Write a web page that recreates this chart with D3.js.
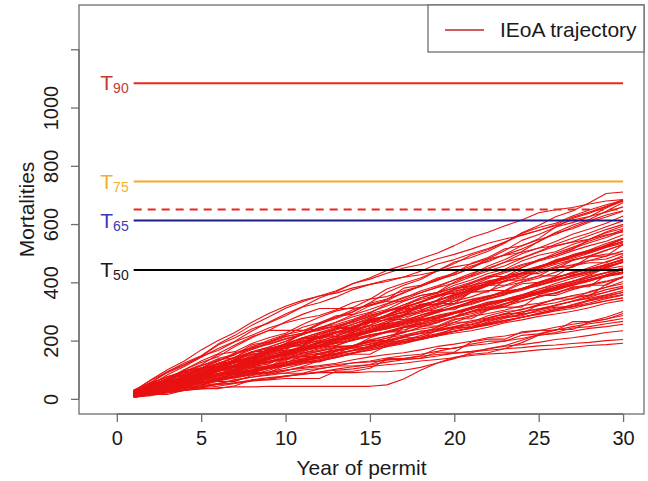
<!DOCTYPE html>
<html><head><meta charset="utf-8">
<script src="https://cdn.jsdelivr.net/npm/d3@7"></script>
<style>body{margin:0;background:#fff}svg{display:block}text{font-family:"Liberation Sans",Arial,sans-serif}</style>
</head><body><svg id="chart" width="648" height="481"></svg>
<script>
// ---------------- data ----------------
const years = [1,2,3,4,5,6,7,8,9,10,11,12,13,14,15,16,17,18,19,20,21,22,23,24,25,26,27,28,29,30];
const xTicks = [0,5,10,15,20,25,30];
const yTicks = [0,200,400,600,800,1000,1200];
const yTickLabels = ["0","200","400","600","800","1000",""];
const thresholdLetters = ["T","T","T","T"];
const thresholdSubscripts = ["90","75","65","50"];
const thresholdValues = [1083,746,612,442];
const dashedThreshold = [650];
const legendLabels = ["IEoA trajectory"];
// mortalities in year 1 followed by annual additions (years 2..30), one row per trajectory
const annualMortalities = [
[22,30,25,18,22,35,10,28,20,15,30,25,22,12,28,35,20,18,25,30,15,22,28,35,25,30,20,28,32,5],
[15,20,35,10,25,30,5,40,15,20,10,35,25,5,30,20,40,10,25,15,35,20,30,10,25,40,15,20,30,25],
[28,35,30,25,28,20,30,22,25,18,15,10,20,25,12,8,20,15,22,18,25,30,28,35,20,25,30,18,22,20],
[10,10,15,12,18,10,20,15,10,25,20,15,18,30,25,35,28,30,20,35,25,30,22,28,35,30,25,20,28,30],
[18,25,20,28,15,22,30,18,25,20,12,25,18,22,30,15,20,25,18,28,22,15,25,30,20,18,25,22,20,15],
[24,18,22,30,12,25,20,35,10,22,28,15,20,25,18,12,30,20,25,15,22,28,18,20,25,30,15,22,18,20],
[12,20,18,22,25,15,20,28,18,20,22,25,10,18,22,30,20,25,18,20,15,22,25,28,20,22,25,18,20,25],
[20,22,20,15,25,18,20,22,15,20,25,18,22,20,15,22,20,25,18,15,22,20,18,25,22,20,15,22,20,18],
[15,15,20,22,10,18,25,15,20,12,18,22,15,20,25,10,18,22,15,20,18,25,12,20,18,22,15,20,18,15],
[25,28,22,18,20,25,15,18,22,20,12,10,15,18,20,12,15,18,20,22,15,12,18,20,15,18,22,15,12,18],
[8,12,15,10,18,20,15,22,18,15,20,25,18,22,15,20,18,22,25,15,18,20,22,18,20,25,15,20,22,18],
[20,18,25,0,30,15,20,5,35,18,10,25,20,0,28,18,22,15,0,30,25,18,20,5,28,22,15,20,18,25],
[12,22,18,15,20,25,12,18,20,15,22,10,18,20,15,25,18,12,20,22,15,18,10,20,22,18,15,12,20,22],
[30,25,20,18,22,15,25,20,12,18,15,20,10,15,18,20,12,15,22,18,10,15,20,18,22,15,12,18,20,15],
[16,10,12,15,18,10,15,20,12,18,15,22,20,18,25,20,22,18,15,25,20,22,18,25,20,15,22,20,18,25],
[22,20,15,22,18,12,20,15,18,22,10,15,20,18,15,22,12,18,15,20,22,18,15,12,20,18,22,15,20,18],
[10,15,18,20,12,25,15,18,22,20,15,18,12,20,25,18,15,22,18,20,12,25,18,15,20,22,18,15,25,20],
[18,30,0,25,5,20,0,35,15,0,28,20,10,0,30,22,5,25,18,0,30,15,20,5,25,18,10,22,20,15],
[14,20,22,18,15,20,25,18,15,20,22,18,20,15,22,18,20,25,15,20,18,22,15,20,18,25,20,22,18,20],
[26,15,10,12,18,15,20,12,15,18,20,22,25,20,18,22,25,20,18,15,22,25,20,18,22,15,20,18,15,22],
[12,15,12,18,10,15,20,12,15,10,18,15,12,20,15,10,18,15,12,18,15,20,10,15,18,12,15,20,15,12],
[20,18,15,12,20,10,15,18,12,15,20,10,12,15,18,12,10,15,20,12,15,18,10,15,12,20,15,12,18,15],
[8,10,12,15,8,12,15,18,10,12,15,20,12,15,18,15,12,20,15,18,12,15,20,18,15,12,18,20,15,18],
[15,20,18,15,12,20,15,10,18,12,15,10,12,8,15,12,18,10,15,12,18,15,20,12,18,15,12,18,15,20],
[25,22,20,15,18,12,15,10,12,15,10,12,15,18,10,12,15,12,10,15,18,12,15,10,12,15,18,12,15,10],
[10,12,15,10,18,15,12,20,15,12,18,10,15,20,12,18,15,12,18,20,15,12,18,15,20,12,15,18,12,15],
[18,0,25,5,20,0,18,22,0,15,25,5,0,30,12,0,20,18,5,25,0,22,15,5,20,18,0,25,15,20],
[14,18,12,15,20,15,18,12,15,18,20,15,12,18,15,20,12,18,15,12,20,15,18,12,15,20,18,15,12,18],
[22,15,18,20,12,15,10,18,15,12,20,15,18,12,15,10,18,15,20,12,15,18,15,12,20,15,18,12,15,20],
[6,8,10,12,10,15,12,10,15,18,12,15,20,15,18,12,20,18,15,22,18,20,15,18,22,20,18,15,20,22],
[28,20,15,22,18,15,12,10,15,12,8,15,12,10,15,18,12,15,10,12,15,18,12,15,10,12,15,18,12,15],
[16,15,15,12,18,20,15,12,15,18,15,12,20,15,18,15,12,18,15,20,15,12,18,15,12,20,15,18,15,12],
[12,20,18,22,15,18,20,15,12,10,8,12,10,15,12,10,8,15,12,18,15,12,10,15,18,12,15,10,12,15],
[20,12,10,15,12,18,15,12,20,15,18,12,15,20,18,15,12,18,20,15,12,18,15,20,12,15,18,12,20,15],
[10,12,10,15,8,12,10,15,12,8,10,12,15,10,8,12,10,15,12,10,8,12,15,10,12,8,10,12,15,10],
[18,15,12,10,12,15,8,10,12,15,10,8,12,10,15,12,8,10,12,15,10,12,8,10,15,12,10,8,12,10],
[8,10,8,12,10,15,12,10,8,12,15,10,12,15,10,12,15,12,10,15,12,10,12,15,10,12,8,15,12,10],
[22,20,18,15,12,10,12,8,10,12,8,10,12,8,10,12,15,10,8,12,10,15,12,10,8,12,10,15,12,10],
[12,8,10,12,15,10,12,15,10,12,15,12,10,15,12,10,12,15,18,12,10,15,12,15,10,12,15,18,12,15],
[15,10,12,10,8,12,10,12,15,10,12,8,10,12,15,12,10,12,15,12,10,15,12,10,15,12,18,15,12,15],
[25,18,15,12,15,10,12,8,12,10,12,15,10,8,12,15,10,12,10,15,12,10,12,8,10,12,15,10,12,15],
[10,12,15,10,12,10,15,12,10,12,15,10,12,10,8,12,10,12,15,10,12,15,18,12,15,18,12,15,18,15],
[20,12,10,8,12,10,15,12,10,8,12,10,12,15,10,12,10,8,12,15,10,12,15,10,12,15,10,12,15,12],
[14,15,12,10,15,12,10,12,15,10,12,15,12,10,15,12,10,15,12,10,15,12,18,15,12,10,15,12,18,12],
[10,5,8,6,5,4,3,0,2,0,0,0,0,0,0,5,20,30,25,15,20,15,10,18,20,15,12,10,8,10],
[8,8,10,6,8,10,5,8,6,10,5,8,6,5,8,6,5,8,5,6,8,5,3,5,6,4,5,6,3,5],
[15,10,12,8,10,12,8,10,6,8,5,6,8,5,4,6,5,8,6,5,4,6,5,4,6,3,5,4,6,4],
[12,6,8,10,5,8,6,10,8,5,8,6,10,8,6,10,8,5,8,10,6,8,10,5,8,10,6,8,10,6],
[6,8,6,10,8,5,10,8,6,10,8,5,0,0,3,0,5,10,15,20,10,5,15,20,25,10,15,5,10,8],
[18,12,10,8,6,10,8,12,6,8,10,6,8,12,10,8,6,10,12,8,10,12,6,10,8,12,10,8,10,12],
[25,40,35,30,38,32,28,35,30,25,20,15,10,18,12,15,10,8,12,15,10,18,12,10,15,8,12,10,15,10],
[20,35,38,30,25,40,30,35,28,30,22,20,18,25,15,20,18,12,20,15,18,20,15,12,18,15,20,12,15,18],
[18,30,35,28,32,30,25,35,30,28,25,30,22,28,20,25,18,22,20,25,28,18,22,20,25,10,8,12,10,5],
[15,0,30,0,40,0,0,35,10,0,45,5,0,0,30,20,0,40,0,10,35,0,0,30,15,0,25,0,40,10],
[10,20,5,0,25,40,0,10,0,30,5,0,35,0,20,0,45,5,0,25,0,30,10,0,40,0,20,15,0,30],
[22,35,0,40,10,0,30,25,0,5,40,0,20,0,35,10,0,30,25,0,40,5,0,30,20,0,35,10,0,25],
[5,10,0,15,5,0,10,20,0,5,0,0,25,0,10,30,0,5,20,0,35,10,0,25,5,0,30,0,15,20],
[12,25,30,0,20,35,5,0,40,15,0,30,20,0,45,0,10,35,0,20,25,0,40,0,15,30,0,35,10,0],
[30,15,25,20,0,30,10,25,0,35,20,5,30,0,25,15,0,40,10,0,30,25,0,20,35,0,30,15,0,40],
[8,12,18,10,0,22,15,5,0,25,12,0,18,8,0,30,20,0,15,25,0,35,15,0,30,20,10,0,40,25],
[20,28,22,30,25,20,35,30,25,0,0,5,10,0,15,20,25,0,30,35,20,25,0,30,28,15,20,35,25,20],
[15,22,28,35,30,25,30,28,22,30,25,20,0,0,10,15,0,20,10,15,5,20,10,15,0,20,10,15,5,20],
[25,30,35,25,30,40,25,30,20,25,30,15,20,25,18,10,15,20,25,15,20,18,22,25,15,20,25,18,20,22],
[10,15,10,20,15,25,20,30,25,20,35,30,25,20,30,35,25,20,30,25,28,20,25,30,20,15,25,20,18,15],
[18,10,12,0,15,5,0,20,8,0,0,15,10,0,5,20,0,10,25,0,15,10,0,20,5,15,0,25,10,20],
[12,18,22,15,25,20,10,28,15,20,25,18,12,30,22,15,28,20,10,25,18,22,15,28,20,12,25,18,22,15],
[20,15,20,10,25,15,20,5,30,15,10,25,5,20,15,10,25,15,5,20,15,10,20,25,5,15,20,10,15,20],
[14,25,20,15,30,10,20,25,15,10,5,10,15,5,10,20,15,10,5,15,20,10,15,5,20,15,10,15,20,10],
[6,5,10,8,12,10,15,8,10,12,15,20,10,15,25,20,15,10,20,25,15,18,20,25,15,20,18,22,25,20],
[24,20,25,15,20,18,22,25,20,18,15,22,20,25,18,20,22,15,20,25,22,18,20,15,22,25,20,18,22,20],
[10,18,15,20,22,18,15,20,25,18,22,20,15,18,22,20,25,18,15,20,22,18,25,20,15,18,22,20,18,22],
[16,20,15,18,12,20,15,10,18,15,20,12,18,15,10,20,15,18,12,15,20,18,12,15,20,18,15,12,18,15],
[20,22,25,18,20,15,22,18,12,15,10,18,12,15,20,10,15,12,18,10,15,12,10,15,18,12,10,15,12,10],
[8,15,12,18,20,15,12,18,22,15,20,18,15,22,12,18,20,15,18,22,15,20,18,12,15,20,18,22,15,18],
[28,12,15,10,18,15,12,10,15,18,12,10,15,12,18,10,15,12,10,15,18,12,15,10,12,15,18,10,12,15],
[10,8,12,10,5,8,10,12,6,8,10,5,8,12,6,10,8,5,10,12,8,6,10,8,12,5,8,10,6,8],
[15,20,0,25,10,0,20,15,0,30,5,0,25,10,0,20,15,0,25,10,0,20,15,5,20,10,0,25,15,10],
[12,25,15,30,5,20,25,10,30,15,20,5,25,20,15,30,10,20,25,5,20,15,25,10,20,25,15,10,20,18],
[18,15,10,18,12,10,20,15,5,18,12,10,15,5,20,12,15,10,8,15,20,10,12,15,8,12,15,10,18,12],
[10,18,20,15,12,18,15,20,12,10,15,18,20,12,15,10,18,15,12,10,15,18,12,15,10,18,15,12,10,15]
];

// ---------------- styles ----------------
const thresholdLineColors = ["#e8281e","#f9a825","#1c1c86","#000000"];
const thresholdLabelColors = ["#c43a34","#eeb22a","#3a3ab4","#1a1a1a"];
const trajColor = "#e81212";
const axisColor = "#6e6e6e";
const textColor = "#1a1a1a";

// ---------------- layout ----------------
const svg = d3.select("#chart");
const box = {left:79, right:644, top:5, bottom:414};
const x = d3.scaleLinear().domain([-2.24, 31.24]).range([box.left, box.right]);
const y = d3.scaleLinear().domain([-52, 1352]).range([box.bottom, box.top]);

// trajectories
const trajectories = annualMortalities.map(row => Array.from(d3.cumsum(row)));
const line = d3.line().x((d,i)=>x(years[i])).y(d=>y(d));
svg.append("g").selectAll("path").data(trajectories).join("path")
  .attr("d", d=>line(d)).attr("fill","none").attr("stroke",trajColor)
  .attr("stroke-width",1.1).attr("stroke-linejoin","round");

// threshold lines
const x0 = years[0], x1 = years[years.length-1];
svg.append("g").selectAll("line").data(dashedThreshold).join("line")
  .attr("x1",x(x0)).attr("x2",x(x1)).attr("y1",d=>y(d)).attr("y2",d=>y(d))
  .attr("stroke","#e8281e").attr("stroke-width",2).attr("stroke-dasharray","8,6");
const thr = svg.append("g");
thresholdValues.forEach((v,i)=>{
  thr.append("line").attr("x1",x(x0)).attr("x2",x(x1)).attr("y1",y(v)).attr("y2",y(v))
    .attr("stroke",thresholdLineColors[i]).attr("stroke-width",2);
  const t = thr.append("text").attr("x",x(x0)-5).attr("y",y(v)+7)
    .attr("text-anchor","end").attr("fill",thresholdLabelColors[i]).attr("font-size",21);
  t.append("tspan").text(thresholdLetters[i]);
  t.append("tspan").attr("font-size",14).attr("dy",3).text(thresholdSubscripts[i]);
});

// box
svg.append("rect").attr("x",box.left).attr("y",box.top)
  .attr("width",box.right-box.left).attr("height",box.bottom-box.top)
  .attr("fill","none").attr("stroke",axisColor).attr("stroke-width",1.3);

// x axis
const xAxis = d3.axisBottom(x).tickValues(xTicks).tickSize(8).tickPadding(9).tickFormat(d3.format("d"));
const gx = svg.append("g").attr("transform",`translate(0,${box.bottom})`).call(xAxis);
gx.select(".domain").attr("d",`M${x(xTicks[0])},0H${x(xTicks[xTicks.length-1])}`).attr("stroke",axisColor).attr("stroke-width",1.3);
gx.selectAll(".tick line").attr("stroke",axisColor).attr("stroke-width",1.3);
gx.selectAll(".tick text").attr("fill",textColor).attr("font-size",20).attr("font-family","Liberation Sans, Arial, sans-serif");

// y axis
const yAxis = d3.axisLeft(y).tickValues(yTicks).tickSize(8).tickFormat((d,i)=>yTickLabels[i]);
const gy = svg.append("g").attr("transform",`translate(${box.left},0)`).call(yAxis);
gy.select(".domain").attr("d",`M0,${y(yTicks[0])}V${y(yTicks[yTicks.length-1])}`).attr("stroke",axisColor).attr("stroke-width",1.3);
gy.selectAll(".tick line").attr("stroke",axisColor).attr("stroke-width",1.3);
gy.selectAll(".tick text").attr("fill",textColor).attr("font-size",20)
  .attr("font-family","Liberation Sans, Arial, sans-serif")
  .attr("text-anchor","middle").attr("dy",null).attr("x",null)
  .attr("transform","translate(-28.5,0) rotate(-90)")
  .attr("dominant-baseline","central");

// axis titles
svg.append("text").attr("x",(box.left+box.right)/2).attr("y",475).attr("text-anchor","middle")
  .attr("fill",textColor).attr("font-size",21).text("Year of permit");
svg.append("text").attr("transform",`translate(34,${(box.top+box.bottom)/2}) rotate(-90)`)
  .attr("text-anchor","middle").attr("fill",textColor).attr("font-size",21).text("Mortalities");

// legend
const lg = svg.append("g");
lg.append("rect").attr("x",428).attr("y",box.top).attr("width",box.right-428).attr("height",47)
  .attr("fill","#fff").attr("stroke",axisColor).attr("stroke-width",1.3);
lg.append("line").attr("x1",445).attr("x2",484).attr("y1",30).attr("y2",30)
  .attr("stroke","#c0282a").attr("stroke-width",1.5);
lg.append("text").attr("x",500).attr("y",37).attr("fill",textColor).attr("font-size",21).text(legendLabels[0]);
</script></body></html>
